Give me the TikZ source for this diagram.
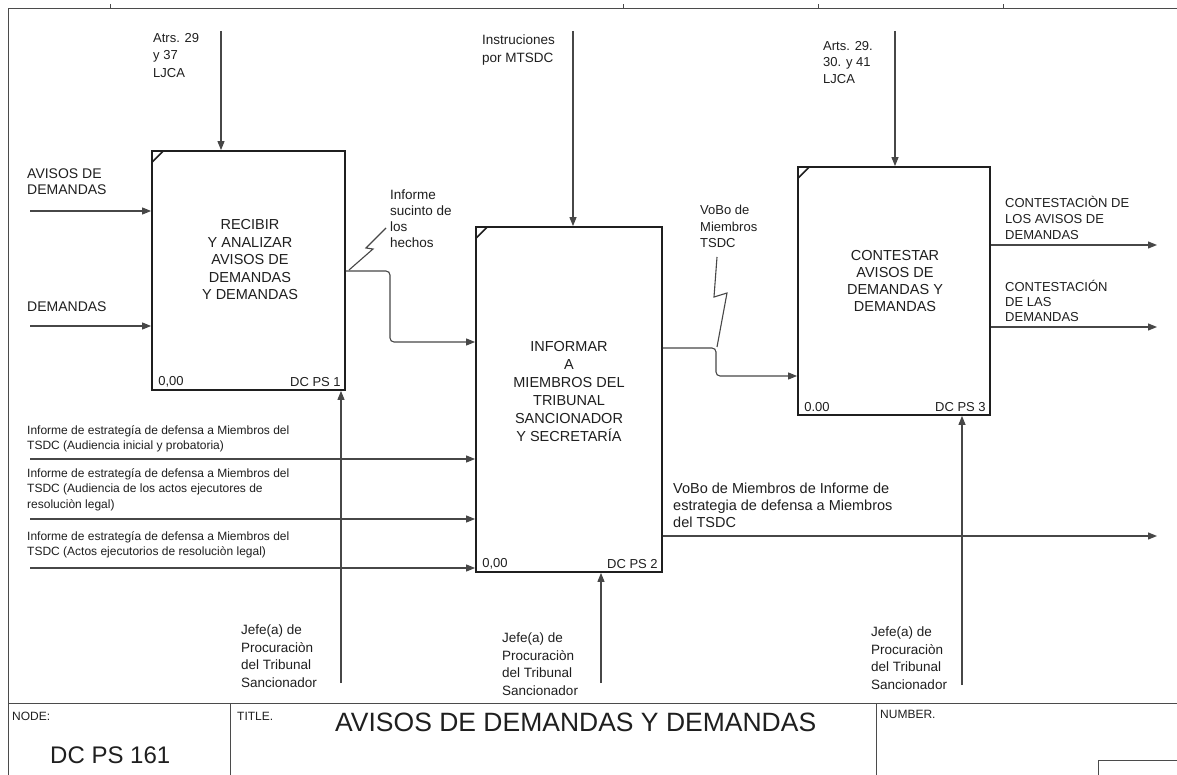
\documentclass[tikz,border=0pt]{standalone}
\usepackage{fontspec}
\setmainfont{Liberation Sans}
\usetikzlibrary{arrows.meta}
\definecolor{ink}{gray}{0.12}
\definecolor{wire}{gray}{0.28}
\newcommand\fsz[2]{\fontsize{#1}{#2}\selectfont}
\begin{document}
\begin{tikzpicture}[x=1pt,y=-1pt,
  box/.style={draw=ink,line width=1.8pt,inner sep=0pt},
  arr/.style={draw=wire,line width=1.1pt,-{Triangle[length=9pt,width=7pt]}},
  wireline/.style={draw=wire,line width=1.1pt},
  framel/.style={draw=ink!80,line width=0.9pt},
  lbl/.style={inner sep=0pt,align=left,anchor=north west,text=ink},
  boxtxt/.style={inner sep=0pt,align=center,text=ink},
  corner/.style={inner sep=0pt,text=ink,font=\fsz{13}{15}}]
\useasboundingbox (0,0) rectangle (1177,775);
\fill[white] (0,0) rectangle (1177,775);
% frame
\draw[framel] (8,775) -- (8,8) -- (1177,8);
\foreach \tx in {110,623,818,1003} \draw[framel] (\tx,8) -- (\tx,4);
\draw[framel] (8,703) -- (1177,703);
\draw[framel] (230,703) -- (230,775);
\draw[framel] (876,703) -- (876,775);
\draw[framel] (1098,775) -- (1098,760) -- (1177,760);
% boxes
\node[box,minimum width=193pt,minimum height=239pt] (b1) at (248.5,270.5) {};
\node[box,minimum width=186pt,minimum height=345pt] (b2) at (569,399.5) {};
\node[box,minimum width=192pt,minimum height=248pt] (b3) at (894,291) {};
\foreach \b in {b1,b2,b3} \draw[ink,line width=1.5pt] ([shift={(1,12)}]\b.north west) -- ([shift={(12,1)}]\b.north west);
% box texts
\node[boxtxt,font=\fsz{14.5}{17.5}] (t1) at (250,260) {RECIBIR\\Y ANALIZAR\\AVISOS DE\\DEMANDAS\\Y DEMANDAS};
\node[boxtxt,font=\fsz{14.5}{18}] (t2) at (569,392) {INFORMAR\\A\\MIEMBROS DEL\\TRIBUNAL\\SANCIONADOR\\Y SECRETARÍA};
\node[boxtxt,font=\fsz{14.5}{17.3}] (t3) at (895,281) {CONTESTAR\\AVISOS DE\\DEMANDAS Y\\DEMANDAS};
\node[corner,anchor=south west] (n1) at ([shift={(7,-4)}]b1.south west) {0,00};
\node[corner,anchor=south east] (d1) at ([shift={(-5,-4)}]b1.south east) {DC PS 1};
\node[corner,anchor=south west] (n2) at ([shift={(7,-4)}]b2.south west) {0,00};
\node[corner,anchor=south east] (d2) at ([shift={(-5,-4)}]b2.south east) {DC PS 2};
\node[corner,anchor=south west] (n3) at ([shift={(7,-4)}]b3.south west) {0.00};
\node[corner,anchor=south east] (d3) at ([shift={(-5,-4)}]b3.south east) {DC PS 3};
% free ends
\coordinate (c1) at (221,31);
\coordinate (c2) at (573,31);
\coordinate (c3) at (895,31);
\coordinate (i1) at (30,211);
\coordinate (i2) at (30,326);
\coordinate (i3) at (30,459);
\coordinate (i4) at (30,519);
\coordinate (i5) at (30,568);
\coordinate (m1) at (341,683);
\coordinate (m2) at (601,683);
\coordinate (m3) at (962,685);
\coordinate (o1) at (1157,245);
\coordinate (o2) at (1157,327);
\coordinate (o3) at (1157,536);
% controls
\draw[arr] (c1) -- (c1 |- b1.north);
\draw[arr] (c2) -- (c2 |- b2.north);
\draw[arr] (c3) -- (c3 |- b3.north);
% inputs
\draw[arr] (i1) -- (i1 -| b1.west);
\draw[arr] (i2) -- (i2 -| b1.west);
\draw[arr] (i3) -- (i3 -| b2.west);
\draw[arr] (i4) -- (i4 -| b2.west);
\draw[arr] (i5) -- (i5 -| b2.west);
% mechanisms
\draw[arr] (m1) -- (m1 |- b1.south);
\draw[arr] (m2) -- (m2 |- b2.south);
\draw[arr] (m3) -- (m3 |- b3.south);
% outputs
\draw[arr] (o1 -| b3.east) -- (o1);
\draw[arr] (o2 -| b3.east) -- (o2);
\draw[arr] (o3 -| b2.east) -- (o3);
% box to box
\draw[arr,rounded corners=4pt] (b1.east |- 0,271) -- (390,271) -- (390,342) -- (b2.west |- 0,342);
\draw[arr,rounded corners=4pt] (b2.east |- 0,348) -- (716,348) -- (716,376) -- (b3.west |- 0,376);
% squiggles
\coordinate (s1a) at (349,270);
\coordinate (s1b) at (386,228);
\draw[wireline] (s1a) -- (373,249) -- (366,248) -- (s1b);
\coordinate (s2a) at (717,257);
\coordinate (s2b) at (717,347);
\draw[wireline] (s2a) -- (714,297) -- (727,293) -- (s2b);
% labels
\node[lbl,font=\fsz{13}{17.5}] (lc1) at (153,33) {Atrs. 29\\y 37\\LJCA};
\node[lbl,font=\fsz{13.5}{18}] (lc2) at (482,35) {Instruciones\\por MTSDC};
\node[lbl,font=\fsz{13}{16.5}] (lc3) at (823,41) {Arts. 29.\\30. y 41\\LJCA};
\node[lbl,font=\fsz{14}{16}] (li1) at (27,169) {AVISOS DE\\DEMANDAS};
\node[lbl,font=\fsz{14}{16}] (li2) at (27,302) {DEMANDAS};
\node[lbl,font=\fsz{13.5}{16}] (ls1) at (390,190) {Informe\\sucinto de\\los\\hechos};
\node[lbl,font=\fsz{13}{16.5}] (ls2) at (700,205) {VoBo de\\Miembros\\TSDC};
\node[lbl,font=\fsz{13}{16}] (lo1) at (1005,196) {CONTESTACIÒN DE\\LOS AVISOS DE\\DEMANDAS};
\node[lbl,font=\fsz{13}{15}] (lo2) at (1005,280) {CONTESTACIÓN\\DE LAS\\DEMANDAS};
\node[lbl,font=\fsz{14.5}{17}] (lo3) at (673,483) {VoBo de Miembros de Informe de\\estrategia de defensa a Miembros\\del TSDC};
\node[lbl,font=\fsz{12}{15.7}] (li3) at (27,425) {Informe de estrategía de defensa a Miembros del\\TSDC (Audiencia inicial y probatoria)};
\node[lbl,font=\fsz{12}{15.7}] (li4) at (27,468) {Informe de estrategía de defensa a Miembros del\\TSDC (Audiencia de los actos ejecutores de\\resoluciòn legal)};
\node[lbl,font=\fsz{12}{15.7}] (li5) at (27,531) {Informe de estrategía de defensa a Miembros del\\TSDC (Actos ejecutorios de resoluciòn legal)};
\node[lbl,font=\fsz{13.5}{17.5}] (lm1) at (241,625) {Jefe(a) de\\Procuraciòn\\del Tribunal\\Sancionador};
\node[lbl,font=\fsz{13.5}{17.5}] (lm2) at (502,633) {Jefe(a) de\\Procuraciòn\\del Tribunal\\Sancionador};
\node[lbl,font=\fsz{13.5}{17.5}] (lm3) at (871,627) {Jefe(a) de\\Procuraciòn\\del Tribunal\\Sancionador};
% title block
\node[inner sep=0pt,anchor=west,text=ink,font=\fsz{12}{14}] (node) at (12,716) {NODE:};
\node[inner sep=0pt,anchor=west,text=ink,font=\fsz{12}{14}] (titl) at (237,716) {TITLE.};
\node[inner sep=0pt,anchor=west,text=ink,font=\fsz{12}{14}] (numb) at (880,714) {NUMBER.};
\node[inner sep=0pt,anchor=west,text=ink,font=\fsz{24}{28}] (nodeid) at (50,755) {DC PS 161};
\node[inner sep=0pt,anchor=west,text=ink,font=\fsz{26.5}{30}] (title) at (335,722) {AVISOS DE DEMANDAS Y DEMANDAS};
\end{tikzpicture}
\end{document}
